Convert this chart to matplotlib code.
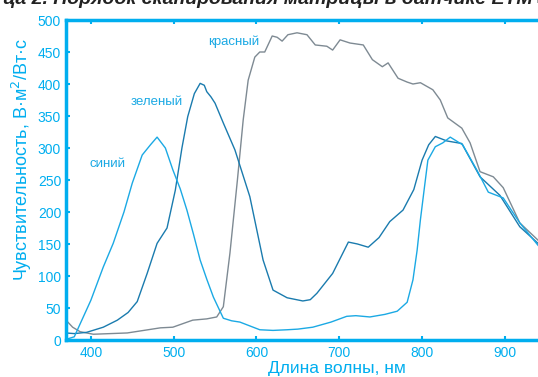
import matplotlib
matplotlib.use("Agg")
import matplotlib.pyplot as plt

plt.rcParams["font.family"] = ["Liberation Sans", "DejaVu Sans"]

# spectral sensitivity
blue_x = [370, 380, 387, 400, 415, 427, 440, 450, 462, 472, 480, 490, 499, 508, 516, 524, 532, 540,
          548, 560, 570, 580, 592, 604, 620, 637, 650, 668, 690, 709, 720, 737, 755, 770, 782, 789,
          794, 798, 803, 807, 816, 825, 834, 849, 866, 880, 898, 918, 940]
blue_y = [1, 5, 25, 62, 114, 151, 200, 245, 289, 305, 317, 300, 266, 236, 203, 165, 125, 95,
          67, 34, 30, 28, 22, 16, 15, 16, 17, 20, 28, 37, 38, 36, 40, 45, 59, 94,
          140, 188, 240, 281, 302, 308, 317, 305, 266, 231, 222, 183, 148]

green_x = [370, 380, 395, 415, 432, 445, 456, 468, 480, 492, 502, 510, 517, 525, 532, 537, 540, 545,
           550, 560, 574, 592, 608, 620, 637, 656, 665, 673, 692, 711, 722, 735, 748, 761, 777, 790,
           800, 808, 816, 830, 848, 870, 894, 918, 940]
green_y = [11, 10, 12, 20, 31, 43, 60, 104, 151, 175, 234, 300, 349, 385, 401, 398, 388, 380,
           370, 339, 297, 224, 125, 78, 66, 61, 63, 73, 104, 153, 150, 145, 160, 185, 203, 235,
           281, 305, 318, 311, 307, 255, 226, 177, 151]

red_x = [370, 378, 387, 403, 444, 484, 499, 523, 540, 552, 560, 568, 577, 584, 590, 598, 604, 610,
         619, 625, 631, 638, 649, 661, 671, 685, 692, 701, 713, 729, 740, 752, 759, 771, 782, 789,
         798, 813, 822, 831, 848, 858, 870, 886, 898, 918, 940]
red_y = [31, 20, 13, 9, 11, 19, 20, 31, 33, 36, 52, 136, 250, 344, 406, 442, 450, 450,
         475, 473, 467, 477, 480, 477, 461, 459, 453, 469, 464, 461, 438, 427, 433, 409, 403, 400,
         402, 391, 375, 347, 331, 308, 263, 255, 238, 183, 156]

labels = ["синий", "зеленый", "красный"]
label_pos = [(420, 275), (480, 372), (572, 466)]

cyan = "#00AEEF"
c_blue = "#1BA9E4"
c_green = "#1A7BAE"
c_red = "#7E8A93"

fig = plt.figure(figsize=(5.38, 3.77), dpi=100)
ax = fig.add_axes([66 / 538, 37 / 377, 472 / 538, 320 / 377])

ax.plot(red_x, red_y, color=c_red, lw=1.0)
ax.plot(green_x, green_y, color=c_green, lw=1.0)
ax.plot(blue_x, blue_y, color=c_blue, lw=1.0)

for lab, (lx, ly) in zip(labels, label_pos):
    ax.text(lx, ly, lab, color=c_blue, fontsize=9.5, ha="center", va="center")

ax.set_xlim(370, 940)
ax.set_ylim(0, 500)
ax.set_xticks([400, 500, 600, 700, 800, 900])
ax.set_yticks(range(0, 501, 50))

for side in ["left", "bottom", "top"]:
    ax.spines[side].set_color(cyan)
    ax.spines[side].set_linewidth(2.5)
ax.spines["right"].set_visible(False)
ax.tick_params(axis="both", colors=cyan, labelcolor=cyan, labelsize=10, direction="in",
               length=3, width=1.5, top=True)
ax.tick_params(axis="x", pad=4)

ax.set_xlabel("Длина волны, нм", color=cyan, fontsize=12.5)
ax.xaxis.set_label_coords(0.575, -0.066)
ax.set_ylabel("Чувствительность, В·м$^2$/Вт·с", color=cyan, fontsize=13)
ax.yaxis.set_label_coords(-0.068, 0.5625)

# header of the page, mostly cut off at the top edge
fig.text(0.005, 1 - 4 / 377, "ца 2. Порядок сканирования матрицы в датчике ETM+",
         fontsize=14, style="italic", weight="bold", color="#222222", va="baseline")

fig.savefig("out.png", dpi=100)
